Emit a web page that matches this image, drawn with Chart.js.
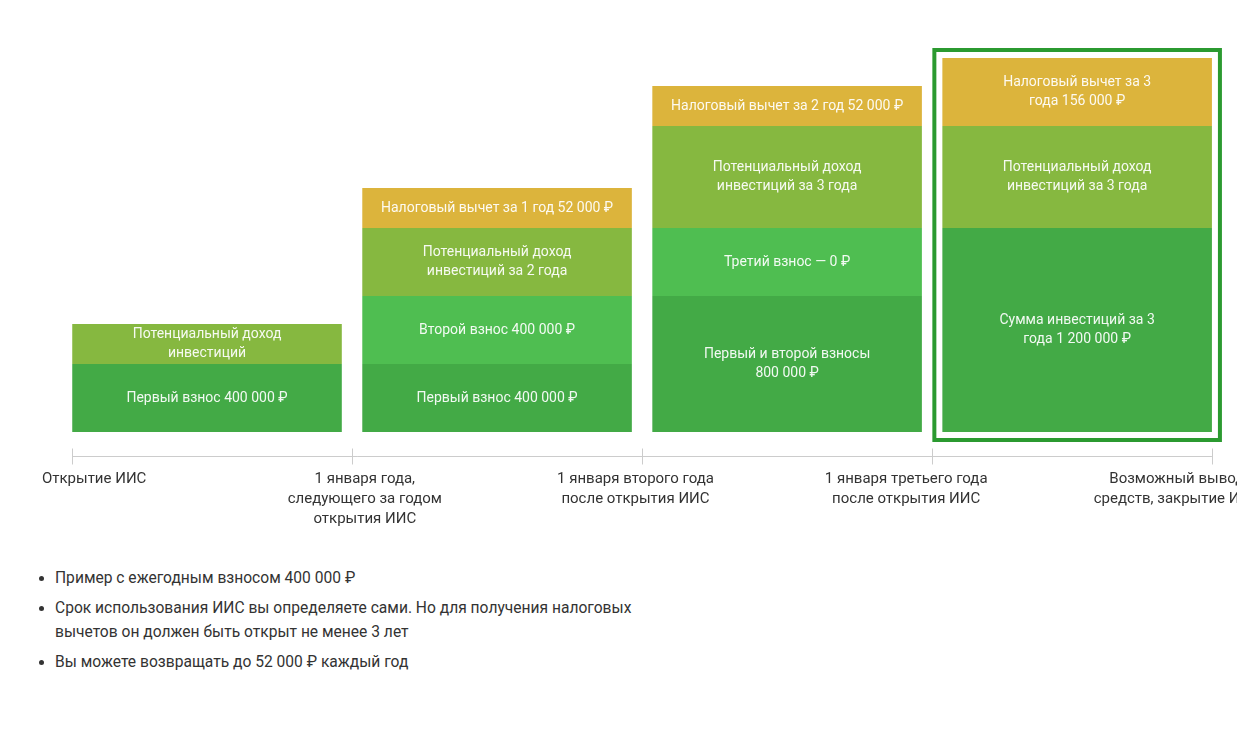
<!DOCTYPE html>
<html lang="ru">
<head>
<meta charset="utf-8">
<script src="https://cdn.jsdelivr.net/npm/chart.js@4"></script>
<style>
  html, body { margin: 0; padding: 0; background: #fff; overflow: hidden; width: 1237px; height: 730px; }
  #wrap { position: absolute; left: 0; top: 0; width: 1300px; height: 566px; }
  ul.notes {
    position: absolute; left: 0; top: 566px; margin: 0; padding: 0 0 0 55px;
    font-family: Roboto, "Noto Sans", sans-serif; font-size: 15.6px; line-height: 24px; color: #333;
    width: 600px;
  }
  ul.notes li { margin: 0 0 6px 0; }
</style>
</head>
<body>
<div id="wrap"><canvas id="c" width="1300" height="566" style="width:1300px;height:566px"></canvas></div>
<ul class="notes">
  <li>Пример с ежегодным взносом 400 000 ₽</li>
  <li>Срок использования ИИС вы определяете сами. Но для получения налоговых вычетов он должен быть открыт не менее 3 лет</li>
  <li>Вы можете возвращать до 52 000 ₽ каждый год</li>
</ul>
<script>
// ---- data (visual height units; the reference is illustrative, not to scale) ----
const categories = ["Год 0", "Год 1", "Год 2", "Год 3"];
const baseValues      = [4, 4, 8, 12];
const secondValues    = [0, 4, 4, 0];
const incomeValues    = [2.35, 4, 6, 6];
const taxValues       = [0, 2.35, 2.35, 4];

const baseLabels   = ["Первый взнос 400 000 ₽", "Первый взнос 400 000 ₽", "Первый и второй взносы\n800 000 ₽", "Сумма инвестиций за 3\nгода 1 200 000 ₽"];
const secondLabels = ["", "Второй взнос 400 000 ₽", "Третий взнос — 0 ₽", ""];
const incomeLabels = ["Потенциальный доход\nинвестиций", "Потенциальный доход\nинвестиций за 2 года", "Потенциальный доход\nинвестиций за 3 года", "Потенциальный доход\nинвестиций за 3 года"];
const taxLabels    = ["", "Налоговый вычет за 1 год 52 000 ₽", "Налоговый вычет за 2 год 52 000 ₽", "Налоговый вычет за 3\nгода 156 000 ₽"];

const timelineValues = [0, 1, 2, 3, 4];
const timelineLabels = [
  ["Открытие ИИС"],
  ["1 января года,", "следующего за годом", "открытия ИИС"],
  ["1 января второго года", "после открытия ИИС"],
  ["1 января третьего года", "после открытия ИИС"],
  ["Возможный вывод", "средств, закрытие ИИС"]
];

const FONT = 'Roboto, "Noto Sans", sans-serif';

const segmentLabelPlugin = {
  id: 'segmentLabels',
  afterDatasetsDraw(chart) {
    const ctx = chart.ctx;
    ctx.save();
    ctx.font = '14px ' + FONT;
    ctx.fillStyle = 'rgba(255,255,255,0.93)';
    ctx.textAlign = 'center';
    ctx.textBaseline = 'middle';
    chart.data.datasets.forEach((ds, di) => {
      const meta = chart.getDatasetMeta(di);
      meta.data.forEach((el, i) => {
        const txt = ds.segLabels[i];
        if (!txt) return;
        const lines = txt.split('\n');
        const cy = (el.y + el.base) / 2;
        const lh = 19.5;
        lines.forEach((ln, k) => {
          ctx.fillText(ln, el.x, cy + (k - (lines.length - 1) / 2) * lh);
        });
      });
    });
    ctx.restore();
  }
};

const timelinePlugin = {
  id: 'timeline',
  afterDraw(chart) {
    const ctx = chart.ctx;
    const bars = chart.getDatasetMeta(0).data;
    const n = bars.length;
    const left = bars[0].x - bars[0].width / 2;
    const right = bars[n - 1].x + bars[n - 1].width / 2;
    const y = Math.round(chart.chartArea.bottom + 24) + 0.5;
    const ticks = [left];
    for (let i = 0; i < n - 1; i++) {
      ticks.push(((bars[i].x + bars[i].width / 2) + (bars[i + 1].x - bars[i + 1].width / 2)) / 2);
    }
    ticks.push(right);
    ctx.save();
    ctx.strokeStyle = '#cccccc';
    ctx.lineWidth = 1;
    ctx.beginPath();
    ctx.moveTo(left, y);
    ctx.lineTo(right, y);
    ticks.forEach(t => {
      const x = Math.round(t) + 0.5;
      ctx.moveTo(x, y - 8);
      ctx.lineTo(x, y + 8);
    });
    ctx.stroke();

    // highlight frame around the last bar
    const lastEl = chart.getDatasetMeta(chart.data.datasets.length - 1).data[n - 1];
    const b = bars[n - 1];
    const top = lastEl.y;
    const bottom = b.base;
    ctx.strokeStyle = '#2b9a30';
    ctx.lineWidth = 4;
    ctx.strokeRect(b.x - b.width / 2 - 8, top - 8, b.width + 16, bottom - top + 16);
    ctx.restore();
  }
};

const chart = new Chart(document.getElementById('c'), {
  type: 'bar',
  data: {
    labels: categories,
    datasets: [
      { data: baseValues,   backgroundColor: '#43aa46', segLabels: baseLabels },
      { data: secondValues, backgroundColor: '#4fbe51', segLabels: secondLabels },
      { data: incomeValues, backgroundColor: '#86b840', segLabels: incomeLabels },
      { data: taxValues,    backgroundColor: '#dcb43c', segLabels: taxLabels }
    ]
  },
  options: {
    responsive: false,
    animation: false,
    devicePixelRatio: 1,
    layout: { padding: { left: 62, right: 76, top: 7, bottom: 0 } },
    datasets: { bar: { barPercentage: 1, categoryPercentage: 0.9294, borderWidth: 0 } },
    plugins: { legend: { display: false }, tooltip: { enabled: false } },
    scales: {
      x: { stacked: true, display: false },
      y: { stacked: true, display: false, min: 0, max: 25 },
      x2: {
        type: 'linear', position: 'bottom', min: -0.1188, max: 4.1675, offset: false,
        grid: { display: false, drawTicks: false, offset: false }, border: { display: false },
        afterBuildTicks(scale) { scale.ticks = timelineValues.map(v => ({ value: v })); },
        ticks: {
          padding: 37, maxRotation: 0, autoSkip: false,
          color: '#333333',
          font: { family: FONT, size: 15, lineHeight: 20 / 15 },
          callback(v) { return timelineLabels[timelineValues.indexOf(v)]; }
        }
      }
    }
  },
  plugins: [segmentLabelPlugin, timelinePlugin]
});
</script>
</body>
</html>
